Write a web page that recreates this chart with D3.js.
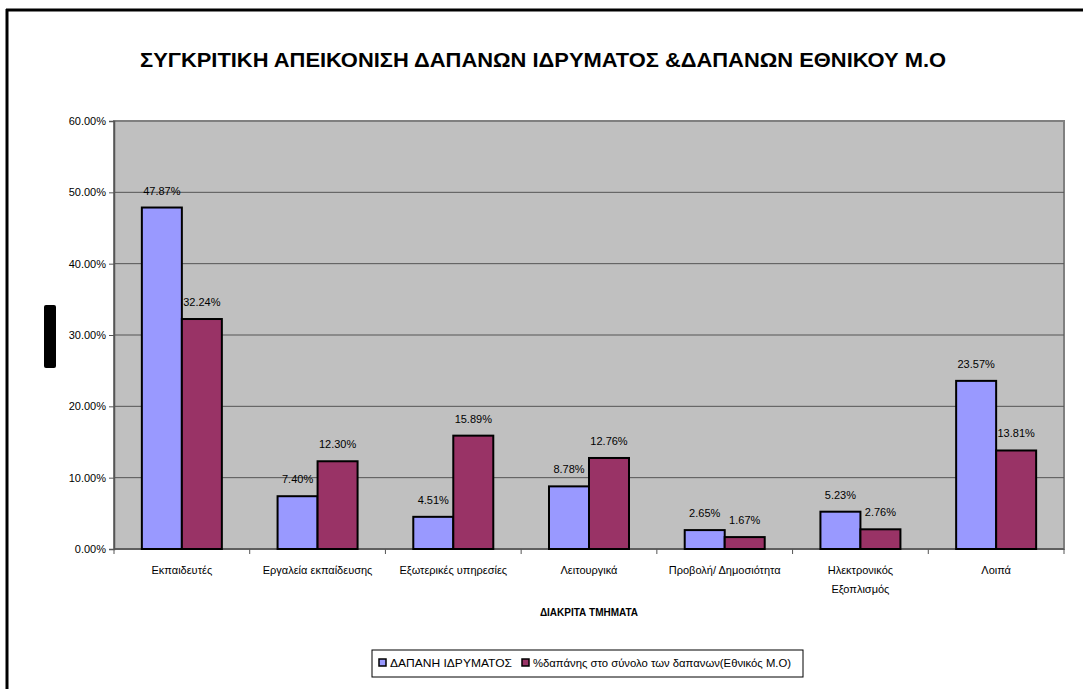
<!DOCTYPE html>
<html><head><meta charset="utf-8">
<script src="https://cdn.jsdelivr.net/npm/d3@7"></script>
<style>body{margin:0;background:#fff}svg{display:block;font-family:"Liberation Sans",Arial,sans-serif}</style>
</head><body>
<script>
const categories = ["Εκπαιδευτές","Εργαλεία εκπαίδευσης","Εξωτερικές υπηρεσίες","Λειτουργικά","Προβολή/ Δημοσιότητα","Ηλεκτρονικός Εξοπλισμός","Λοιπά"];
const categoryLines = [["Εκπαιδευτές"],["Εργαλεία εκπαίδευσης"],["Εξωτερικές υπηρεσίες"],["Λειτουργικά"],["Προβολή/ Δημοσιότητα"],["Ηλεκτρονικός","Εξοπλισμός"],["Λοιπά"]];
const seriesNames = ["ΔΑΠΑΝΗ ΙΔΡΥΜΑΤΟΣ","%δαπάνης στο σύνολο των δαπανων(Εθνικός Μ.Ο)"];
const institution = [47.87, 7.40, 4.51, 8.78, 2.65, 5.23, 23.57];
const national = [32.24, 12.30, 15.89, 12.76, 1.67, 2.76, 13.81];
const yTicks = [0, 10, 20, 30, 40, 50, 60];
const colors = ["#9999FF", "#993366"];
const title = "ΣΥΓΚΡΙΤΙΚΗ ΑΠΕΙΚΟΝΙΣΗ ΔΑΠΑΝΩΝ ΙΔΡΥΜΑΤΟΣ &ΔΑΠΑΝΩΝ ΕΘΝΙΚΟΥ Μ.Ο";
const xTitle = "ΔΙΑΚΡΙΤΑ ΤΜΗΜΑΤΑ";

const W = 1083, H = 689;
const svg = d3.select("body").append("svg").attr("width", W).attr("height", H);

// outer frame (left and top edges)
svg.append("line").attr("x1",7).attr("x2",7).attr("y1",9).attr("y2",H).attr("stroke","#000").attr("stroke-width",3);
svg.append("line").attr("x1",6).attr("x2",W).attr("y1",10).attr("y2",10).attr("stroke","#000").attr("stroke-width",3);

svg.append("text").attr("x",543).attr("y",67).attr("text-anchor","middle")
  .attr("font-weight","bold").attr("font-size",20)
  .attr("textLength",806).attr("lengthAdjust","spacingAndGlyphs").text(title);

const m = {l:114, r:1064, t:121, b:549};
const x0 = d3.scaleBand().domain(categories).range([m.l, m.r]).paddingInner(0).paddingOuter(0);
const y = d3.scaleLinear().domain([0,60]).range([m.b, m.t]);
const groupW = 80;
const x1 = d3.scaleBand().domain([0,1]).range([0, groupW]);

// plot background
svg.append("rect").attr("x",m.l).attr("y",m.t).attr("width",m.r-m.l).attr("height",m.b-m.t)
  .attr("fill","#C0C0C0").attr("stroke","#808080").attr("stroke-width",2);

// gridlines
svg.append("g").selectAll("line").data(yTicks.filter(d=>d>0 && d<60)).join("line")
  .attr("x1",m.l).attr("x2",m.r).attr("y1",d=>y(d)).attr("y2",d=>y(d))
  .attr("stroke","#555").attr("stroke-width",1);

// y axis
const yAxis = d3.axisLeft(y).tickValues(yTicks).tickFormat(d=>d.toFixed(2)+"%").tickSize(5).tickPadding(3);
const gy = svg.append("g").attr("transform",`translate(${m.l},0)`).call(yAxis);
gy.select(".domain").attr("stroke","#555").attr("stroke-width",1.5);
gy.selectAll(".tick line").attr("stroke","#555");
gy.selectAll("text").attr("font-size",11).attr("fill","#000").attr("font-family","Liberation Sans, Arial, sans-serif");

// x axis baseline + ticks between categories
svg.append("line").attr("x1",m.l).attr("x2",m.r).attr("y1",m.b).attr("y2",m.b).attr("stroke","#555").attr("stroke-width",1.5);
const boundaries = categories.map(c=>x0(c)).concat([m.r]);
svg.append("g").selectAll("line").data(boundaries).join("line")
  .attr("x1",d=>d).attr("x2",d=>d).attr("y1",m.b).attr("y2",m.b+5).attr("stroke","#555");

// category labels
const cl = svg.append("g").selectAll("text").data(categories).join("text")
  .attr("x",d=>x0(d)+x0.bandwidth()/2).attr("y",574)
  .attr("text-anchor","middle").attr("font-size",11);
cl.each(function(d,i){
  const t=d3.select(this);
  categoryLines[i].forEach((ln,j)=>t.append("tspan").attr("x",x0(d)+x0.bandwidth()/2).attr("dy",j?19:0).text(ln));
});

svg.append("text").attr("x",589).attr("y",616).attr("text-anchor","middle")
  .attr("font-weight","bold").attr("font-size",10).text(xTitle);

// bars
const series = [institution, national];
series.forEach((vals, s) => {
  const g = svg.append("g");
  g.selectAll("rect").data(vals).join("rect")
    .attr("x",(d,i)=>x0(categories[i]) + (x0.bandwidth()-groupW)/2 + x1(s))
    .attr("y",d=>y(d)).attr("width",x1.bandwidth()).attr("height",d=>m.b-y(d))
    .attr("fill",colors[s]).attr("stroke","#000").attr("stroke-width",2);
  g.selectAll("text").data(vals).join("text")
    .attr("x",(d,i)=>x0(categories[i]) + (x0.bandwidth()-groupW)/2 + x1(s) + x1.bandwidth()/2)
    .attr("y",d=>y(d)-13).attr("text-anchor","middle").attr("font-size",11)
    .text(d=>d.toFixed(2)+"%");
});

// black marker on left
svg.append("rect").attr("x",44).attr("y",305).attr("width",12).attr("height",63).attr("rx",2).attr("fill","#000");

// legend
const lg = svg.append("g");
lg.append("rect").attr("x",372).attr("y",650).attr("width",431).attr("height",27).attr("fill","#fff").attr("stroke","#000").attr("stroke-width",1);
const lx = [379, 522];
const lw = [122, 258];
seriesNames.forEach((n,i)=>{
  lg.append("rect").attr("x",lx[i]).attr("y",659).attr("width",7).attr("height",7).attr("fill",colors[i]).attr("stroke","#000").attr("stroke-width",1.5);
  lg.append("text").attr("x",lx[i]+11).attr("y",667).attr("font-size",11)
    .attr("textLength",lw[i]).attr("lengthAdjust","spacingAndGlyphs").text(n);
});
</script>
</body></html>
